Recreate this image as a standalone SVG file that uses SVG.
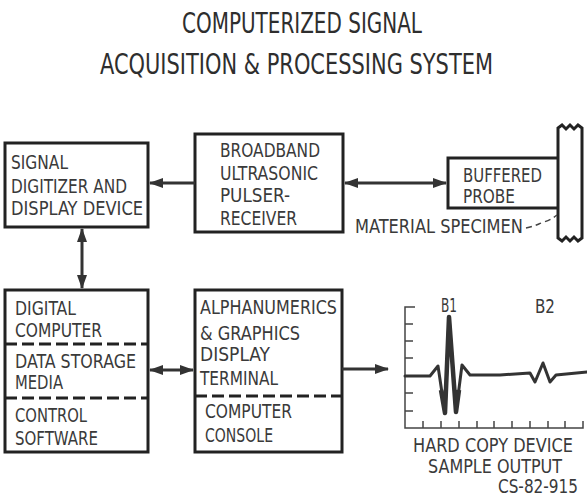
<svg xmlns="http://www.w3.org/2000/svg" width="587" height="502" viewBox="0 0 587 502">
<style>
text{font-family:"Liberation Sans Narrow","DejaVu Sans Condensed","Liberation Sans",sans-serif;fill:#3a3a3a;font-size:19.5px}
.title{font-size:28px;fill:#2e2e2e}
.box{fill:none;stroke:#222;stroke-width:3}
.dash{fill:none;stroke:#222;stroke-width:3;stroke-dasharray:12 5}
.conn{fill:none;stroke:#333;stroke-width:3}
.ax{fill:none;stroke:#444;stroke-width:1.5}
.sig{fill:none;stroke:#333;stroke-width:3;stroke-linejoin:round;stroke-linecap:round}
</style>
<defs>
<marker id="ah" markerUnits="userSpaceOnUse" markerWidth="14" markerHeight="10" refX="13" refY="5" orient="auto-start-reverse">
<path d="M0,0 L14,5 L0,10 Z" fill="#333"/>
</marker>
</defs>
<rect width="587" height="502" fill="#fff"/>
<g id="title">
<text class="title" x="182" y="33" textLength="240" lengthAdjust="spacingAndGlyphs">COMPUTERIZED SIGNAL</text>
<text class="title" x="100" y="74" textLength="393" lengthAdjust="spacingAndGlyphs">ACQUISITION &amp; PROCESSING SYSTEM</text>
</g>
<g id="digitizer">
<rect class="box" x="5" y="143" width="143" height="84"/>
<text x="11" y="169" textLength="57" lengthAdjust="spacingAndGlyphs">SIGNAL</text>
<text x="11" y="193" textLength="116" lengthAdjust="spacingAndGlyphs">DIGITIZER AND</text>
<text x="11" y="215" textLength="132" lengthAdjust="spacingAndGlyphs">DISPLAY DEVICE</text>
</g>
<g id="pulser">
<rect class="box" x="195" y="134" width="148" height="98"/>
<text x="220" y="157" textLength="100" lengthAdjust="spacingAndGlyphs">BROADBAND</text>
<text x="220" y="180" textLength="98" lengthAdjust="spacingAndGlyphs">ULTRASONIC</text>
<text x="220" y="202" textLength="70" lengthAdjust="spacingAndGlyphs">PULSER-</text>
<text x="220" y="225" textLength="77" lengthAdjust="spacingAndGlyphs">RECEIVER</text>
</g>
<g id="probe">
<path class="box" d="M558,158 H448 V208 H558"/>
<text x="463" y="182" textLength="79" lengthAdjust="spacingAndGlyphs">BUFFERED</text>
<text x="463" y="203" textLength="52" lengthAdjust="spacingAndGlyphs">PROBE</text>
</g>
<g id="specimen">
<path class="box" d="M558,238 V128 L562,125 L566,129 L570,125 L574,129 L578,125 L582,128 V238 L578,241 L574,237 L570,241 L566,237 L562,241 Z"/>
<text x="355" y="233" textLength="168" lengthAdjust="spacingAndGlyphs">MATERIAL SPECIMEN</text>
<path d="M526,228 C536,226 538,224 544,222 C550,220 553,218 557,215" fill="none" stroke="#444" stroke-width="1.5" stroke-dasharray="6 4"/>
</g>
<g id="computer">
<rect class="box" x="5" y="290" width="143" height="162"/>
<line class="dash" x1="5" y1="344" x2="148" y2="344"/>
<line class="dash" x1="5" y1="398" x2="148" y2="398"/>
<text x="15" y="315" textLength="61" lengthAdjust="spacingAndGlyphs">DIGITAL</text>
<text x="15" y="337" textLength="87" lengthAdjust="spacingAndGlyphs">COMPUTER</text>
<text x="15" y="368" textLength="121" lengthAdjust="spacingAndGlyphs">DATA STORAGE</text>
<text x="15" y="389" textLength="48" lengthAdjust="spacingAndGlyphs">MEDIA</text>
<text x="15" y="422" textLength="72" lengthAdjust="spacingAndGlyphs">CONTROL</text>
<text x="15" y="445" textLength="83" lengthAdjust="spacingAndGlyphs">SOFTWARE</text>
</g>
<g id="terminal">
<rect class="box" x="195" y="290" width="147" height="162"/>
<line class="dash" x1="195" y1="396" x2="342" y2="396"/>
<text x="200" y="314" textLength="137" lengthAdjust="spacingAndGlyphs">ALPHANUMERICS</text>
<text x="200" y="340" textLength="100" lengthAdjust="spacingAndGlyphs">&amp; GRAPHICS</text>
<text x="200" y="361" textLength="70" lengthAdjust="spacingAndGlyphs">DISPLAY</text>
<text x="200" y="385" textLength="78" lengthAdjust="spacingAndGlyphs">TERMINAL</text>
<text x="205" y="418" textLength="87" lengthAdjust="spacingAndGlyphs">COMPUTER</text>
<text x="205" y="442" textLength="68" lengthAdjust="spacingAndGlyphs">CONSOLE</text>
</g>
<g id="connectors">
<line class="conn" x1="195" y1="183" x2="150" y2="183" marker-end="url(#ah)"/>
<line class="conn" x1="345" y1="183" x2="446" y2="183" marker-start="url(#ah)" marker-end="url(#ah)"/>
<line class="conn" x1="82" y1="229" x2="82" y2="288" marker-start="url(#ah)" marker-end="url(#ah)"/>
<line class="conn" x1="150" y1="370" x2="193" y2="370" marker-start="url(#ah)" marker-end="url(#ah)"/>
<line class="conn" x1="342" y1="369" x2="388" y2="369" marker-end="url(#ah)"/>
</g>
<g id="chart">
<path class="ax" d="M415,307 H405 V428 H583 V421"/>
<path class="ax" d="M405,324 H413 M405,341 H413 M405,358 H413 M405,393 H413 M405,411 H413"/>
<path class="ax" d="M423,428 V421 M441,428 V421 M459,428 V421 M477,428 V421 M494,428 V421 M512,428 V421 M530,428 V421 M548,428 V421 M565,428 V421"/>
<path class="sig" d="M405,376 L430,376 L438,366 L445,413 L449,317 L456,412 L462,365 L470,375 L500,375 L530,373 L535,382 L543,363 L550,382 L556,375 L587,372"/>
<path d="M441,390 L445,413 L449,317 L456,412 L459,390" fill="none" stroke="#333" stroke-width="4.5" stroke-linejoin="round"/>
<text x="441" y="312" font-size="18" textLength="16" lengthAdjust="spacingAndGlyphs">B1</text>
<text x="535" y="313" font-size="18" textLength="20" lengthAdjust="spacingAndGlyphs">B2</text>
<text x="413" y="452" textLength="160" lengthAdjust="spacingAndGlyphs">HARD COPY DEVICE</text>
<text x="428" y="473" textLength="134" lengthAdjust="spacingAndGlyphs">SAMPLE OUTPUT</text>
<text x="498" y="493" font-size="17" textLength="80" lengthAdjust="spacingAndGlyphs">CS-82-915</text>
</g>
</svg>
